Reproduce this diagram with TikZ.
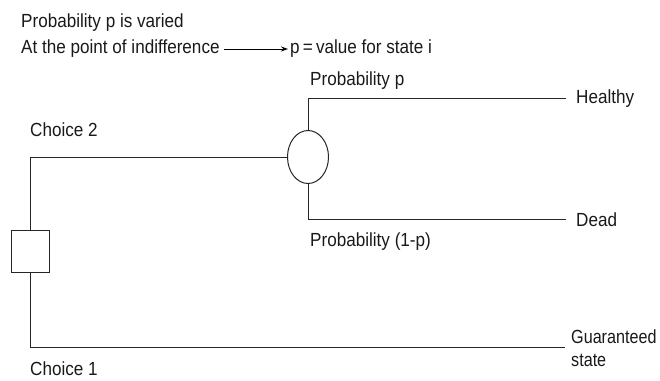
\documentclass[tikz,border=0pt]{standalone}
\usepackage{fontspec}
\setmainfont{Liberation Sans}[FakeStretch=0.9]
\newfontfamily\narrowfont{Liberation Sans}[FakeStretch=0.85]
\usetikzlibrary{shapes.geometric,arrows.meta}
\begin{document}
\begin{tikzpicture}[x=1pt,y=-1pt,
  conn/.style={draw=black!85,line width=1pt},
  lbl/.style={font=\fontsize{19}{23}\selectfont,inner sep=0pt,anchor=west,text=black!90}]
\useasboundingbox (0,0) rectangle (660,380);
\node[draw=black!85,line width=1pt,minimum width=38pt,minimum height=42pt,inner sep=0pt] (sq) at (30,251) {};
\node[ellipse,draw=black!85,line width=1pt,minimum width=41pt,minimum height=53pt,inner sep=0pt] (ch) at (308,157) {};
\coordinate (h) at (566,98);
\coordinate (d) at (566,219);
\coordinate (g) at (565,347);
\draw[conn] (sq.north) |- (ch.west);
\draw[conn] (sq.south) |- (g);
\draw[conn] (ch.north) |- (h);
\draw[conn] (ch.south) |- (d);
\node[lbl] (healthy) at (576,99) {Healthy};
\node[lbl] (dead) at (576,220) {Dead};
\node[lbl,align=left,font=\fontsize{19}{23}\narrowfont] (guar) at (571,348) {Guaranteed\\state};
\node[lbl] (c2) at (30,130) {Choice 2};
\node[lbl] (c1) at (30,369) {Choice 1};
\node[lbl] (pp) at (310,81) {Probability p};
\node[lbl] (pq) at (310,242) {Probability (1-p)};
\node[lbl] (t1) at (21,23) {Probability p is varied};
\node[lbl] (t2) at (21,49) {At the point of indifference};
\node[lbl] (t3) at (290,49) {p\,=\,value for state i};
\draw[line width=0.9pt,-{Stealth[length=7pt,width=5pt]}] ([xshift=4pt]t2.east) -- ([xshift=-2pt]t3.west);
\end{tikzpicture}
\end{document}
